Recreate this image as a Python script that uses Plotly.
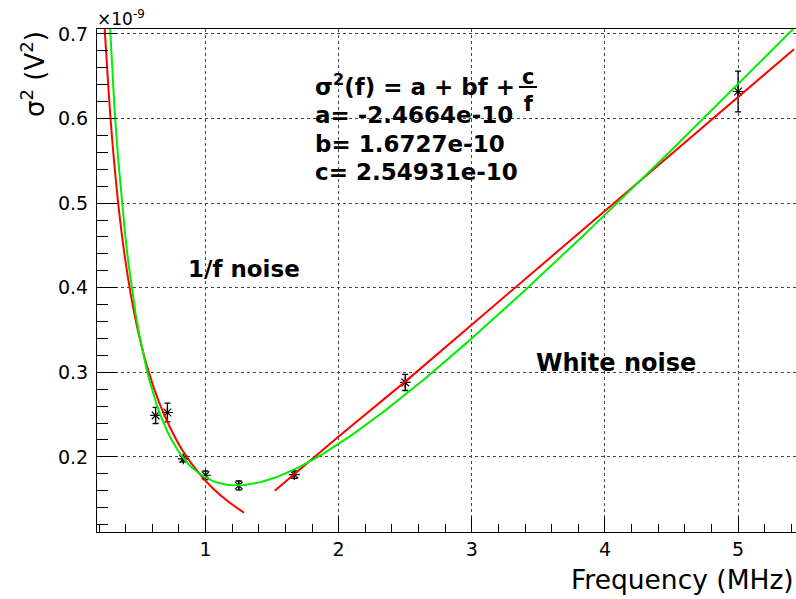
import numpy as np
import plotly.graph_objects as go

# Measured noise variance (units of 1e-9 V^2) versus frequency (MHz)
freq = [0.625, 0.714, 0.833, 1.0, 1.25, 1.667, 2.5, 5.0]
sigma2 = [0.249, 0.2525, 0.1976, 0.1783, 0.1662, 0.179, 0.288, 0.632]
sigma2_err = [0.0095, 0.011, 0.0034, 0.005, 0.0053, 0.0043, 0.0095, 0.024]

# Fit parameters of sigma^2(f) = a + b f + c/f
fit_a = -2.4664e-10
fit_b = 1.6727e-10
fit_c = 2.54931e-10

# Low-frequency (1/f) fit curve
red_low_f = [0.243, 0.25, 0.29, 0.34, 0.39, 0.44, 0.50, 0.57, 0.65, 0.73, 0.83, 0.96, 1.06, 1.18, 1.29]
red_low_y = [0.706, 0.688, 0.593, 0.506, 0.441, 0.391, 0.344, 0.302, 0.265, 0.236, 0.207, 0.179, 0.162, 0.146, 0.134]

# High-frequency (white noise) fit curve
red_high_f = [1.52, 2.0, 2.5, 5.0, 5.42]
red_high_y = [0.160, 0.224, 0.289, 0.625, 0.682]

x_range = [0.185, 5.435]
y_range = [0.1112, 0.7059]

scale = 1e9
f_fit = np.linspace(x_range[0], x_range[1], 200)
green_y = (fit_a + fit_b * f_fit + fit_c / f_fit) * scale

fig = go.Figure()

fig.add_trace(go.Scatter(
    x=freq, y=sigma2, mode="markers",
    marker=dict(symbol="asterisk-open", size=9, color="black",
                line=dict(color="black", width=1.2)),
    error_y=dict(type="data", array=sigma2_err, visible=True,
                 color="black", thickness=1.3, width=3),
    showlegend=False, hoverinfo="skip",
))
fig.add_trace(go.Scatter(x=red_low_f, y=red_low_y, mode="lines",
                         line=dict(color="#ff0000", width=2, shape="spline"),
                         showlegend=False, hoverinfo="skip"))
fig.add_trace(go.Scatter(x=red_high_f, y=red_high_y, mode="lines",
                         line=dict(color="#ff0000", width=2),
                         showlegend=False, hoverinfo="skip"))
fig.add_trace(go.Scatter(x=f_fit, y=green_y, mode="lines",
                         line=dict(color="#00ee00", width=2),
                         showlegend=False, hoverinfo="skip"))

L, R, T, B = 97, 0, 29, 67
W, H = 796, 599
PW, PH = W - L - R, H - T - B


def px(x):
    return (x - L) / PW


def py(y):
    return (H - B - y) / PH


tick_font = dict(family="DejaVu Sans", size=19, color="black")

fig.update_xaxes(
    range=x_range, tick0=0, dtick=1, ticks="inside", ticklen=15,
    tickcolor="black", tickwidth=1, tickfont=tick_font,
    showline=True, linecolor="black", linewidth=1, mirror=True,
    showgrid=True, gridcolor="#444444", griddash="dot", gridwidth=1,
    zeroline=False,
    minor=dict(dtick=0.2, tick0=0, ticks="inside", ticklen=8,
               tickcolor="black", showgrid=False),
)
fig.update_yaxes(
    range=y_range, tick0=0, dtick=0.1, tickformat=".1f", ticks="inside",
    ticklen=20, tickcolor="black", tickwidth=1, tickfont=tick_font,
    ticklabelstandoff=4,
    showline=True, linecolor="black", linewidth=1, mirror=True,
    showgrid=True, gridcolor="#444444", griddash="dot", gridwidth=1,
    zeroline=False,
    minor=dict(dtick=0.02, tick0=0, ticks="inside", ticklen=11,
               tickcolor="black", showgrid=False),
)

bold = dict(family="DejaVu Sans", size=23, color="black", weight="bold")
ann = []


def label(text, x, y, font, xanchor="left", yanchor="middle", angle=0):
    ann.append(dict(text=text, x=px(x), y=py(y), xref="paper", yref="paper",
                    xanchor=xanchor, yanchor=yanchor, showarrow=False,
                    font=font, textangle=angle))


label("σ<sup>2</sup>(f) = a + bf + ", 313, 85, bold)
label("c<br>f", 528, 90, dict(bold, size=21), xanchor="center")
label("a= -2.4664e-10", 313, 115, bold)
label("b= 1.6727e-10", 313, 144, bold)
label("c= 2.54931e-10", 313, 172, bold)
label("1/f noise", 186, 269, bold)
label("White noise", 534, 363, dict(bold, size=24))
label("Frequency (MHz)", 796, 579,
      dict(family="DejaVu Sans", size=26.5, color="black"), xanchor="right")
label("×10<sup>-9</sup>", 95, 18,
      dict(family="DejaVu Sans", size=17, color="black"))
label("σ<sup>2</sup> (V<sup>2</sup>)", 33, 29,
      dict(family="DejaVu Sans", size=26, color="black"),
      xanchor="center", yanchor="top", angle=-90)

fig.update_layout(
    width=W, height=H,
    margin=dict(l=L, r=R, t=T, b=B),
    paper_bgcolor="white", plot_bgcolor="white",
    annotations=ann,
    shapes=[dict(type="line", xref="paper", yref="paper",
                 x0=px(519), x1=px(537), y0=py(87), y1=py(87),
                 line=dict(color="black", width=2))],
)

fig.write_html("out.html")
